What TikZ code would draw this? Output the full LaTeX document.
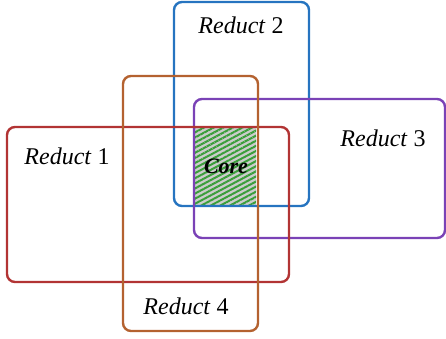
\documentclass[tikz,border=0pt]{standalone}
\usepackage{fontspec}
\setmainfont{Liberation Serif}
\usetikzlibrary{patterns.meta}

\definecolor{redA}{RGB}{178,52,52}
\definecolor{blueA}{RGB}{38,116,192}
\definecolor{purpleA}{RGB}{122,66,182}
\definecolor{orangeA}{RGB}{180,98,48}
\definecolor{greenA}{RGB}{58,158,58}

\tikzset{
	reduct/.style={line width=2.4pt,rounded corners=8pt},
	label/.style={font=\fontsize{24}{28}\selectfont,inner sep=0pt}
}

\begin{document}
\begin{tikzpicture}[x=1pt,y=-1pt]
	
	\useasboundingbox (0,0) rectangle (446,338);
	
	% core
	\fill [gray!40] (195,128) rectangle (256,205);
	\fill [pattern={Lines[angle=28,distance=4.5pt,line width=2pt]},pattern color=greenA] (195,128) rectangle (256,205);
	
	% reducts
	\draw [reduct,blueA] (174,2) rectangle (309,206);
	\draw [reduct,purpleA] (194,99) rectangle (445,238);
	\draw [reduct,redA] (7,127) rectangle (289,282);
	\draw [reduct,orangeA] (123,76) rectangle (258,331);
	
	\node [label] (l1) at (67,156) {\textit{Reduct} 1};
	\node [label] (l2) at (241,25) {\textit{Reduct} 2};
	\node [label] (l3) at (383,138) {\textit{Reduct} 3};
	\node [label] (l4) at (186,306) {\textit{Reduct} 4};
	\node [label,font=\fontsize{22}{26}\selectfont\bfseries\itshape] (core) at (226,166) {Core};
	
\end{tikzpicture}
\end{document}
